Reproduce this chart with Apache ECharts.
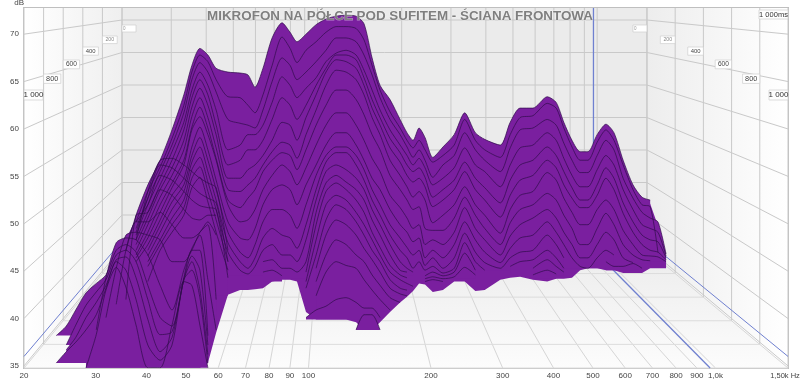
<!DOCTYPE html>
<html><head><meta charset="utf-8">
<style>html,body{margin:0;padding:0;background:#fff}#c{width:800px;height:382px}</style>
<script src="https://cdn.jsdelivr.net/npm/echarts@6/dist/echarts.min.js"></script>
</head><body><div id="c"></div>
<script>
const N = null;
const titleText = 'MIKROFON NA PÓŁCE POD SUFITEM - ŚCIANA FRONTOWA';
const xTicks = [20,30,40,50,60,70,80,90,100,200,300,400,500,600,700,800,900,1000];
const xTop = 1507;
const yTicks = [35,40,45,50,55,60,65,70];
const yMin = 34.78, yMax = 72.76;
const timeTicks = [0,200,400,600,800,1000];
const cursorHz = 970, cursorDb = 36;
const freqs = [24.0,25.4,26.8,28.4,30.1,31.8,33.7,35.6,37.7,40.3,43.2,46.2,
 49.4,51.7,54.1,56.6,59.3,63.4,67.9,71.0,73.9,77.3,81.4,86.1,
 90.1,93.7,98.6,104.4,110.4,116.9,123.7,130.9,136.9,143.3,149.9,158.6,
 167.9,174.6,180.7,186.9,193.3,202,214,228,242,257,271,296,
 313,331,356,386,406,424,444,465,486,512,538,563,
 593,627,660,691,722,756];
const bottomEdge = [N,N,N,34.8,34.8,34.8,34.8,34.8,34.8,34.8,34.8,34.8,
 34.8,34.8,34.8,35.3,38.5,42.5,43.0,43.0,43.1,43.2,43.9,44.1,
 44.1,43.9,40.7,39.9,39.9,39.9,39.9,39.6,38.8,38.8,39.6,40.7,
 41.7,42.3,42.9,43.7,43.6,42.8,43.0,43.9,43.9,42.9,43.0,44.1,
 44.3,44.4,44.1,43.9,44.2,44.2,44.3,45.1,45.3,45.3,45.1,45.1,
 44.8,44.8,44.8,45.3,45.3,45.3];
const sliceFloors = [47.2,47.0,46.8,46.6,46.4,46.2,46.0,45.8,45.5,45.3,45.1,44.8,44.5,44.2,43.9,43.4,43.0,42.4,41.5,40.7,39.9,38.8,38.2,37.2,36.2,35.3,34.8];
const s00 = [N,N,N,N,N,N,N,47.2,50.9,54.1,56.7,59.9,
 63.6,66.7,68.5,67.8,66.4,66.0,65.9,65.7,64.4,66.4,69.6,71.2,
 70.2,69.2,70.0,71.0,71.6,71.9,72.0,71.9,71.1,67.5,64.6,63.1,
 61.0,59.6,58.8,60.1,59.1,57.0,58.1,59.4,61.7,59.6,58.9,58.3,
 60.7,62.2,62.2,63.4,62.8,60.7,58.8,57.6,57.6,59.4,60.5,59.6,
 56.7,54.1,52.8,52.5];
const s01 = [N,N,N,N,N,N,N,N,50.2,53.4,56.0,59.0,
 62.5,66.0,67.8,67.1,65.2,63.4,63.3,62.5,61.7,63.6,66.7,69.7,
 68.5,67.0,68.3,69.2,70.2,70.8,70.8,70.6,69.4,66.7,64.1,61.8,
 60.1,58.8,58.0,58.8,57.8,56.5,57.2,58.3,61.0,58.8,57.8,57.0,
 59.4,61.2,61.4,62.7,62.2,60.1,58.1,56.7,56.7,58.6,59.9,58.8,
 56.2,53.6,52.0,51.8,47.0];
const s02 = [N,N,N,N,N,N,N,N,49.5,52.7,55.5,58.3,
 61.7,65.2,67.0,66.0,63.9,61.0,60.6,60.4,60.1,62.0,65.0,67.5,
 66.7,65.2,66.0,67.1,68.3,69.6,69.6,69.2,67.8,65.7,63.3,61.0,
 59.4,58.1,57.0,57.8,56.7,54.9,56.2,57.2,59.6,57.8,56.7,55.5,
 58.0,59.9,60.1,61.0,60.4,58.5,56.7,55.4,55.4,57.2,58.8,57.8,
 54.8,52.7,51.2,50.6,50.2,46.8];
const s03 = [N,N,N,N,N,N,N,N,48.8,52.0,54.8,57.6,
 60.7,64.1,66.0,64.6,62.0,57.8,58.3,59.4,59.4,60.4,62.8,65.5,
 64.6,63.3,64.3,65.4,67.1,68.0,68.3,67.8,66.2,64.1,62.0,59.9,
 58.3,57.2,56.2,56.9,55.9,54.1,54.8,55.9,58.0,56.2,55.5,53.9,
 56.2,58.0,58.3,59.6,58.8,56.9,55.1,53.9,53.9,55.7,57.2,56.2,
 53.6,51.5,49.9,49.5,49.1,46.6];
const s04 = [N,N,N,N,N,N,N,N,48.3,51.2,54.1,56.7,
 59.9,63.3,65.2,63.6,60.4,56.2,56.7,57.8,57.8,58.8,61.0,63.3,
 62.5,61.0,62.5,64.6,66.4,67.8,67.8,67.3,65.4,63.1,61.2,59.0,
 57.5,56.2,55.5,55.9,54.9,52.8,53.6,54.6,56.5,54.8,53.8,52.2,
 54.6,56.2,56.7,58.1,57.2,55.5,53.8,52.5,52.5,54.1,55.9,54.8,
 52.2,50.2,48.8,48.3,48.1,46.4];
const s05 = [N,N,N,N,N,N,N,N,47.8,50.6,53.6,55.9,
 58.8,62.3,64.3,62.5,59.4,54.8,54.8,55.7,56.2,57.2,58.8,60.7,
 60.4,58.8,61.2,63.6,66.0,67.3,67.1,66.4,64.6,62.2,60.4,58.0,
 56.5,55.1,54.4,54.8,53.9,51.8,52.5,53.6,55.5,53.6,52.5,50.7,
 53.0,54.6,55.1,56.7,55.9,54.1,52.7,51.7,51.7,53.0,54.8,53.6,
 51.1,49.1,47.8,47.2,47.0,46.2];
const s06 = [N,N,N,N,N,N,N,N,47.2,49.9,52.8,55.1,
 57.8,61.3,63.3,61.2,58.0,53.6,53.4,54.1,54.8,56.2,57.6,58.6,
 58.3,56.9,59.4,62.0,64.6,66.2,66.0,65.2,63.6,61.2,59.4,56.7,
 55.1,53.9,52.8,53.4,52.5,50.1,50.9,52.0,53.9,52.0,50.9,49.0,
 51.5,53.0,53.4,55.4,54.6,52.7,51.2,49.9,49.9,51.5,52.5,51.5,
 49.3,47.8,46.7,46.6,46.5,46.0];
const s07 = [N,N,N,N,N,N,N,N,46.7,49.1,52.0,54.3,
 56.7,60.2,62.3,60.1,56.9,52.5,51.7,52.7,53.6,55.5,56.7,57.5,
 57.2,55.7,57.8,60.4,62.5,64.1,64.1,63.1,61.5,59.4,57.8,55.1,
 53.6,52.5,51.5,51.8,49.5,49.3,49.3,50.6,52.8,50.9,49.5,47.8,
 50.1,51.5,52.0,53.2,52.5,50.9,49.5,47.8,47.8,49.5,51.1,49.9,
 47.8,46.7,46.2,46.1];
const s08 = [N,N,N,N,N,N,N,N,46.4,48.5,51.2,53.8,
 56.2,59.9,61.3,59.4,56.7,52.0,50.2,50.4,51.5,53.6,55.1,56.2,
 55.5,54.1,55.9,58.3,60.4,61.7,61.7,60.4,58.8,56.9,55.5,53.0,
 51.7,50.6,49.5,49.9,47.8,48.3,47.8,49.1,51.7,49.5,48.3,46.7,
 48.7,49.9,50.6,51.5,50.6,49.1,47.8,46.4,46.4,47.8,49.1,48.3,
 46.4,45.9];
const s09 = [N,N,N,N,N,N,N,N,46.0,47.8,50.4,53.0,
 54.8,58.1,60.2,57.8,54.6,50.2,48.5,48.3,49.5,52.0,53.6,54.1,
 53.6,52.0,54.1,56.2,58.3,59.6,59.6,58.3,56.7,54.8,53.6,51.5,
 49.9,49.1,48.1,48.5,46.4,47.2,46.4,47.8,50.2,48.3,47.0,45.9,
 47.4,48.5,48.8,50.2,49.1,47.8,46.4,45.5,45.3,46.4,47.2,46.7];
const s10 = [N,N,N,N,N,N,N,N,N,47.2,49.8,52.3,
 54.1,57.2,59.1,56.7,53.6,49.1,47.0,46.4,47.8,50.2,51.5,51.5,
 50.9,49.5,52.0,55.1,57.2,58.1,58.1,57.2,55.7,53.6,52.0,49.9,
 48.5,47.5,46.7,47.2,45.6,46.4,45.3,46.4,49.0,47.0,45.9,45.3,
 46.4,47.0,47.2,48.8,47.8,46.4,N,N,N,N,46.0,45.5,
 45.5,45.8,45.3];
const s11 = [N,N,N,N,N,N,N,N,N,46.6,49.1,51.5,
 53.4,56.5,58.1,55.5,52.5,48.0,46.0,45.3,46.4,48.5,49.5,48.8,
 48.5,47.4,49.9,53.6,56.5,57.5,57.5,56.2,54.6,52.5,50.9,48.8,
 47.2,46.4,45.3,46.0,45.1,45.5,44.8,45.3,48.0,46.0,45.1,N,
 45.5,46.0,46.2,47.2,46.4,45.3];
const s12 = [N,N,N,N,N,N,N,N,N,46.0,48.3,50.6,
 52.5,55.7,57.0,54.4,51.5,47.0,45.1,44.7,45.5,47.2,47.8,46.7,
 46.7,46.0,48.3,52.5,55.5,56.2,55.7,54.8,53.6,51.5,49.9,47.8,
 46.0,45.3,44.9,N,44.5,44.9,44.5,44.9,46.9,45.1,N,N,
 N,N,45.3,46.2,45.5,44.9];
const s13 = [N,N,N,N,N,N,N,N,N,45.5,47.8,49.9,
 51.7,54.8,56.0,53.4,50.4,46.0,N,N,N,46.0,46.2,45.3,
 45.3,44.9,46.0,51.2,54.3,55.1,54.4,53.6,52.5,50.4,48.8,46.7,
 45.1,44.9,N,N,44.2,44.4,44.2,44.4,45.4,44.6,N,N,
 N,N,44.6,45.1,44.7];
const s14 = [N,N,N,N,N,N,N,N,N,43.9,47.2,49.1,
 50.9,53.8,54.9,52.3,49.1,45.1,N,N,N,44.9,45.1,44.5,
 N,N,44.9,49.9,53.4,54.3,53.6,52.5,51.2,49.1,47.5,45.6,
 44.6,44.3,N,N,43.9,44.1,43.9];
const s15 = [N,N,N,N,N,N,N,N,48.3,53.4,56.7,56.9,
 56.2,55.5,54.8,54.3,53.8,47.2,N,N,N,N,N,N,
 N,N,43.9,48.3,52.0,53.0,52.5,51.2,49.9,48.3,46.7,44.9,
 44.1,43.7,43.4];
const s16 = [N,N,N,N,N,N,N,N,49.1,52.7,56.2,55.9,
 54.8,54.0,53.2,52.7,52.2,46.0,N,N,N,N,N,N,
 N,N,43.2,46.7,50.4,52.0,51.5,50.2,48.8,47.2,46.0,44.1,
 43.2,43.0];
const s17 = [N,N,N,N,N,N,N,N,50.2,52.0,55.1,54.6,
 53.4,52.5,51.9,51.7,51.5,44.3,N,N,N,N,N,N,
 N,N,N,45.3,48.8,50.4,49.9,48.8,47.4,46.2,44.9,43.2,
 42.6,42.4];
const s18 = [N,N,N,N,N,N,N,42.0,50.9,51.2,53.6,53.0,
 51.5,50.6,50.4,50.9,50.9,N,N,N,N,N,N,N,
 N,N,N,43.9,46.7,48.3,47.8,46.7,46.0,44.6,43.5,42.2,
 41.7];
const s19 = [N,N,N,N,N,N,41.5,47.2,50.2,50.2,51.2,49.9,
 48.5,48.5,49.1,50.2,48.8,N,N,N,N,N,N,N,
 N,N,N,42.4,44.9,46.0,45.6,45.3,44.1,43.0,42.0,40.9];
const s20 = [N,N,N,N,N,40.1,45.3,48.8,49.1,48.8,48.3,46.0,
 46.0,47.2,49.1,49.9,42.0,N,N,N,N,N,N,N,
 N,N,40.1,40.9,41.3,42.0,42.2,41.7,41.1,41.1,40.1];
const s21 = [N,N,N,N,38.8,44.3,48.0,48.5,48.3,46.7,43.5,40.9,
 45.1,47.4,48.8,44.1,38.8,N,N,N,N,N,N,N,
 N,N,N,N,N,N,N,38.8,40.4,40.4,38.8];
const s22 = [38.2,39.2,40.9,42.7,43.7,44.6,47.2,47.8,47.0,43.5,40.1,39.2,
 44.3,47.2,47.2,38.2];
const s23 = [N,37.2,39.3,41.4,42.8,44.1,46.7,47.2,46.0,42.0,38.3,38.6,
 44.1,46.6,45.1,37.2];
const s24 = [N,36.7,38.0,40.1,41.7,43.5,46.2,46.5,44.3,39.9,36.5,38.0,
 44.1,46.0,43.0,36.2];
const s25 = [35.3,36.5,37.5,38.8,40.4,43.2,46.0,45.1,42.0,37.2,35.6,37.2,
 44.1,45.1,42.2,35.3];
const s26 = [N,N,N,34.8,38.3,43.0,45.4,43.3,39.3,34.8,34.8,39.3,
 43.9,43.5,39.3,34.8];
const slices = [s00,s01,s02,s03,s04,s05,s06,s07,s08,s09,s10,s11,s12,s13,s14,s15,s16,s17,s18,s19,s20,s21,s22,s23,s24,s25,s26];

const PURPLE = '#7a1f9f', EDGE = '#2f0d4a', GUIDE = '#c9c9c9', BLUE = '#6f80d0';

function roomRender(params, api) {
  const fl = api.coord([20, yMin]), tr = api.coord([xTop, yMax]);
  const L = fl[0], B = fl[1], R = tr[0], T = tr[1];
  const W = R - L, H = B - T;
  const bl = L + W * 0.1283, br = L + W * 0.8154, bb = T + H * 0.672;
  const backX = x => bl + (x - L) * (br - bl) / W;
  const backY = db => T + 12 + (70 - db) * 6.5;
  const ch = [];
  const poly = (pts, fill) => ch.push({type:'polygon', shape:{points:pts}, style:{fill}, silent:true});
  const line = (x1,y1,x2,y2,stroke,w) => ch.push({type:'line', shape:{x1,y1,x2,y2}, style:{stroke, lineWidth:w||1}, silent:true});
  const grad = (x,y,x2,y2,a,b) => ({type:'linear', x, y, x2, y2, colorStops:[{offset:0,color:a},{offset:1,color:b}]});
  poly([[L,T],[bl,T],[bl,bb],[L,B]], grad(0,0,1,0,'#ffffff','#efefef'));
  poly([[br,T],[R,T],[R,B],[br,bb]], grad(0,0,1,0,'#ededed','#ffffff'));
  poly([[bl,T],[br,T],[br,bb],[bl,bb]], '#ebebeb');
  poly([[bl,bb],[br,bb],[R,B],[L,B]], grad(0,0,0,1,'#ececec','#fcfcfc'));
  yTicks.forEach(db => {
    const y = api.coord([20, db])[1], by = backY(db);
    line(L, y, bl, by, GUIDE); line(bl, by, br, by, GUIDE); line(br, by, R, y, GUIDE);
  });
  xTicks.concat([xTop]).forEach(hz => {
    const x = api.coord([hz, yMin])[0], bx = backX(x);
    line(bx, T, bx, bb, GUIDE); line(bx, bb, x, B, '#d6d6d6');
  });
  timeTicks.forEach(t => {
    const k = t / 1000, xl = bl - (bl - L) * k, xr = br + (R - br) * k, y = bb + (B - bb) * k;
    line(xl, T, xl, y, GUIDE); line(xr, T, xr, y, GUIDE); line(xl, y, xr, y, '#dcdcdc');
  });
  const cx = api.coord([cursorHz, yMin])[0], bcx = backX(cx);
  const cy = api.coord([20, cursorDb])[1], bcy = backY(cursorDb);
  line(bcx, T, bcx, bb, BLUE, 1.3); line(bcx, bb, cx, B, BLUE, 1.3);
  line(L, cy, bl, bcy, BLUE); line(bl, bcy, br, bcy, BLUE); line(br, bcy, R, cy, BLUE);
  timeTicks.forEach((t, i) => {
    const k = t / 1000, txt = t === 1000 ? '1 000' : String(t);
    const xl = bl - (bl - L) * k, xr = br + (R - br) * k;
    const h = 7 + k * 3, w = t === 1000 ? 19 : 14 + k * 4;
    const y = T + 17 + [0,11,22,35,49,65][i];
    const fs = 4.5 + k * 3.5, col = ['#999','#888','#444','#444','#444','#333'][i];
    [[xl, 1], [xr, -1]].forEach(p => {
      const x0 = p[1] > 0 ? p[0] : p[0] - w;
      ch.push({type:'rect', shape:{x:x0, y, width:w, height:h}, style:{fill:'#fff', stroke:'#cfcfcf', lineWidth:0.7}, silent:true});
      ch.push({type:'text', style:{text:txt, x:x0 + (t===0?1:w/2), y:y+h/2, fill:col, font:fs+'px "Liberation Sans"', align:t===0?'left':'center', verticalAlign:'middle'}, silent:true});
    });
  });
  ch.push({type:'rect', shape:{x:R-29, y:T+2, width:29, height:9}, style:{fill:'#fff', stroke:'#cfcfcf', lineWidth:0.7}, silent:true});
  ch.push({type:'text', style:{text:'1 000ms', x:R-14.5, y:T+6.5, fill:'#333', font:'7.5px "Liberation Sans"', align:'center', verticalAlign:'middle'}, silent:true});
  ch.push({type:'text', style:{text:'1,50k Hz', x:R-3, y:B+8, fill:'#444', font:'7.5px "Liberation Sans"', align:'center', verticalAlign:'middle'}, silent:true});
  return {type:'group', children:ch};
}

function bodyRender(params, api) {
  const top = [], bottom = [];
  freqs.forEach((f, j) => {
    if (bottomEdge[j] === null) return;
    const present = slices.map(s => s[j]).filter(v => v !== null && v !== undefined);
    const hi = Math.max.apply(null, present) - 0.4;
    top.push(api.coord([f, hi]));
    bottom.unshift(api.coord([f, bottomEdge[j]]));
  });
  return {type:'polygon', shape:{points:top.concat(bottom)}, style:{fill:PURPLE}, silent:true};
}

const series = [
  {type:'custom', coordinateSystem:'cartesian2d', data:[[20,40]], renderItem:roomRender, clip:false, silent:true, z:1, animation:false},
  {type:'custom', coordinateSystem:'cartesian2d', data:[[20,40]], renderItem:bodyRender, clip:true, silent:true, z:2, animation:false}
];
slices.forEach((vals, i) => {
  series.push({type:'line', name:'slice'+i, data:freqs.map((f, j) => [f, vals[j] === undefined ? null : vals[j]]),
    smooth:0.25, symbol:'none', showSymbol:false, silent:true, animation:false, connectNulls:false, z:3,
    lineStyle:{color:EDGE, width:0.7}, itemStyle:{color:PURPLE},
    areaStyle:{color:PURPLE, opacity:1, origin:sliceFloors[i]}});
});

const chart = echarts.init(document.getElementById('c'), null, {renderer:'canvas'});
chart.setOption({
  animation:false, backgroundColor:'#fff',
  title:{text:titleText, left:'center', top:10, itemGap:0, padding:0, z:20,
    textStyle:{color:'#7f7f7f', fontFamily:'Liberation Sans', fontWeight:'bold', fontSize:13.4, textBorderColor:'rgba(255,255,255,0.45)', textBorderWidth:1}},
  tooltip:{show:false}, legend:{show:false},
  grid:{left:24, right:12, top:8, bottom:14, show:true, borderColor:'#bfbfbf', borderWidth:2, backgroundColor:'#fff', containLabel:false, outerBoundsMode:'none'},
  xAxis:{type:'log', logBase:10, min:20, max:xTop, splitLine:{show:false}, minorTick:{show:false}, minorSplitLine:{show:false},
    axisLine:{show:false}, axisTick:{show:false},
    axisLabel:{customValues:xTicks, color:'#444', fontSize:8, margin:4, fontFamily:'Liberation Sans', hideOverlap:false, showMinLabel:true, showMaxLabel:true,
      formatter:v => v === 1000 ? '1,0k' : String(Math.round(v))}},
  yAxis:{type:'value', min:yMin, max:yMax, splitLine:{show:false}, axisLine:{show:false}, axisTick:{show:false},
    name:'dB', nameLocation:'end', nameGap:1, nameTextStyle:{color:'#444', fontSize:8, align:'right', fontFamily:'Liberation Sans'},
    axisLabel:{customValues:yTicks, color:'#444', fontSize:8, margin:5, fontFamily:'Liberation Sans'}},
  series
});
</script></body></html>
